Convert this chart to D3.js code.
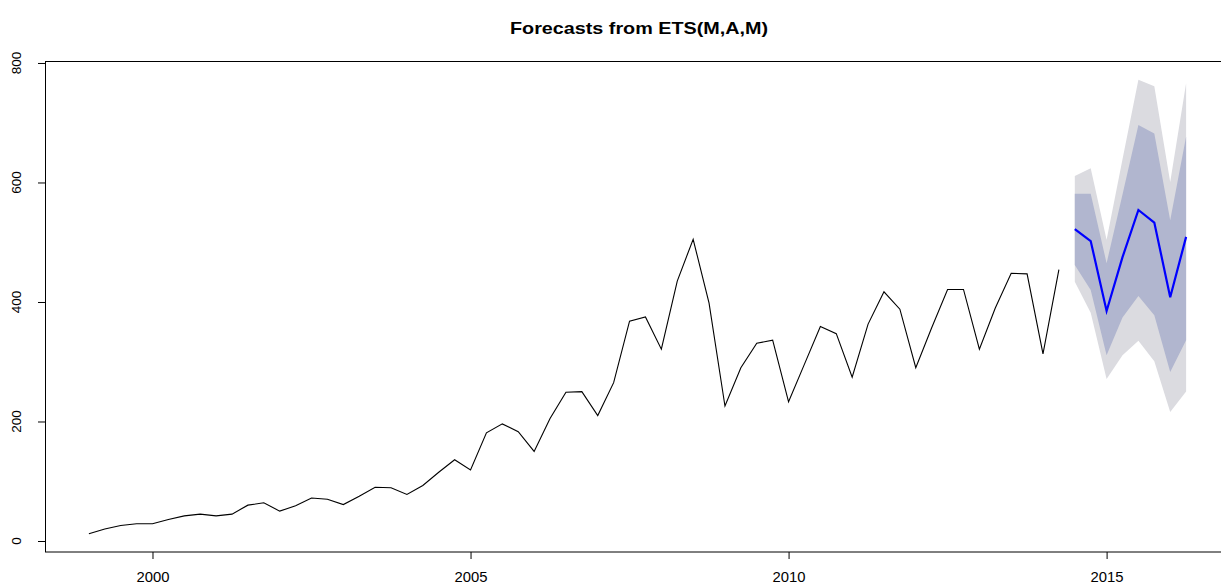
<!DOCTYPE html>
<html><head><meta charset="utf-8">
<script src="https://cdn.jsdelivr.net/npm/d3@7"></script>
<style>body{margin:0;background:#fff}svg{display:block}text{font-family:"Liberation Sans",Arial,sans-serif}</style>
</head><body><svg id="c" width="1221" height="588"></svg>
<script>
const startYear = 1999.0, freq = 4;
const histValues = [12,20,26,29,29,36,42,45,42,45,60,64,50,59,72,70,61,75,90,89,
  78,93,115,136,119,181,196,183,150,205,249,250,210,265,368,375,321,435,505,398,
  226,290,331,336,233,296,359,347,274,363,417,388,290,357,421,421,321,390,448,447,313,454];
const fcStart = 2014.5;
const fcMean  = [522,502,385,475,554,533,408,509];
const fcLo80  = [462,420,311,374,410,378,283,336];
const fcHi80  = [581,581,465,580,696,682,537,677];
const fcLo95  = [434,382,271,311,335,301,216,250];
const fcHi95  = [611,624,504,639,772,761,601,766];
const yTicks = [0,200,400,600,800];
const xTicks = [2000,2005,2010,2015];
const title = "Forecasts from ETS(M,A,M)";

const svg = d3.select("#c");
const x = d3.scaleLinear().domain([1998.31, 2016.94]).range([45, 1230]);
const y = d3.scaleLinear().domain([-18.4, 803.3]).range([552, 61]);

const hist = histValues.map((v,i)=>({t:startYear+i/freq, v}));
const fc = fcMean.map((v,i)=>({t:fcStart+i/freq, m:v, l80:fcLo80[i], h80:fcHi80[i], l95:fcLo95[i], h95:fcHi95[i]}));

svg.append("path").datum(fc).attr("fill","#DBDBE0")
  .attr("d", d3.area().x(d=>x(d.t)).y0(d=>y(d.l95)).y1(d=>y(d.h95)));
svg.append("path").datum(fc).attr("fill","#B1B6CF")
  .attr("d", d3.area().x(d=>x(d.t)).y0(d=>y(d.l80)).y1(d=>y(d.h80)));
svg.append("path").datum(hist).attr("fill","none").attr("stroke","#000").attr("stroke-width",1.1)
  .attr("d", d3.line().x(d=>x(d.t)).y(d=>y(d.v)));
svg.append("path").datum(fc).attr("fill","none").attr("stroke","#0000FF").attr("stroke-width",2.2)
  .attr("d", d3.line().x(d=>x(d.t)).y(d=>y(d.m)));

// box
svg.append("rect").attr("x",45.5).attr("y",61.5).attr("width",1200).attr("height",490.5)
  .attr("fill","none").attr("stroke","#000").attr("stroke-width",1);

const xa = svg.append("g").attr("transform","translate(0,552)")
  .call(d3.axisBottom(x).tickValues(xTicks).tickFormat(d3.format("d")).tickSize(7).tickPadding(13));
xa.select(".domain").remove();
xa.selectAll("text").attr("font-size",14).attr("font-family","Liberation Sans, Arial, sans-serif").attr("fill","#000")
  .attr("textLength",33).attr("lengthAdjust","spacingAndGlyphs");
xa.selectAll("line").attr("stroke","#000");

const ya = svg.append("g").attr("transform","translate(45,0)")
  .call(d3.axisLeft(y).tickValues(yTicks).tickSize(7).tickPadding(0).tickFormat(d3.format("d")));
ya.select(".domain").remove();
ya.selectAll("line").attr("stroke","#000");
ya.selectAll("text").attr("font-size",13.5).attr("font-family","Liberation Sans, Arial, sans-serif").attr("fill","#000")
  .attr("text-anchor","middle").attr("dy",0).attr("x",0)
  .attr("transform", d=>`translate(-29,${y(d)}) rotate(-90)`).attr("y",0).attr("dominant-baseline","central");
ya.selectAll(".tick").attr("transform","translate(0,0)");
ya.selectAll(".tick line").attr("y1",d=>y(d)+0.5).attr("y2",d=>y(d)+0.5);

svg.append("text").attr("x",639).attr("y",34).attr("text-anchor","middle")
  .attr("font-size",17).attr("font-weight","bold")
  .attr("textLength",258).attr("lengthAdjust","spacingAndGlyphs").text(title);
</script></body></html>
